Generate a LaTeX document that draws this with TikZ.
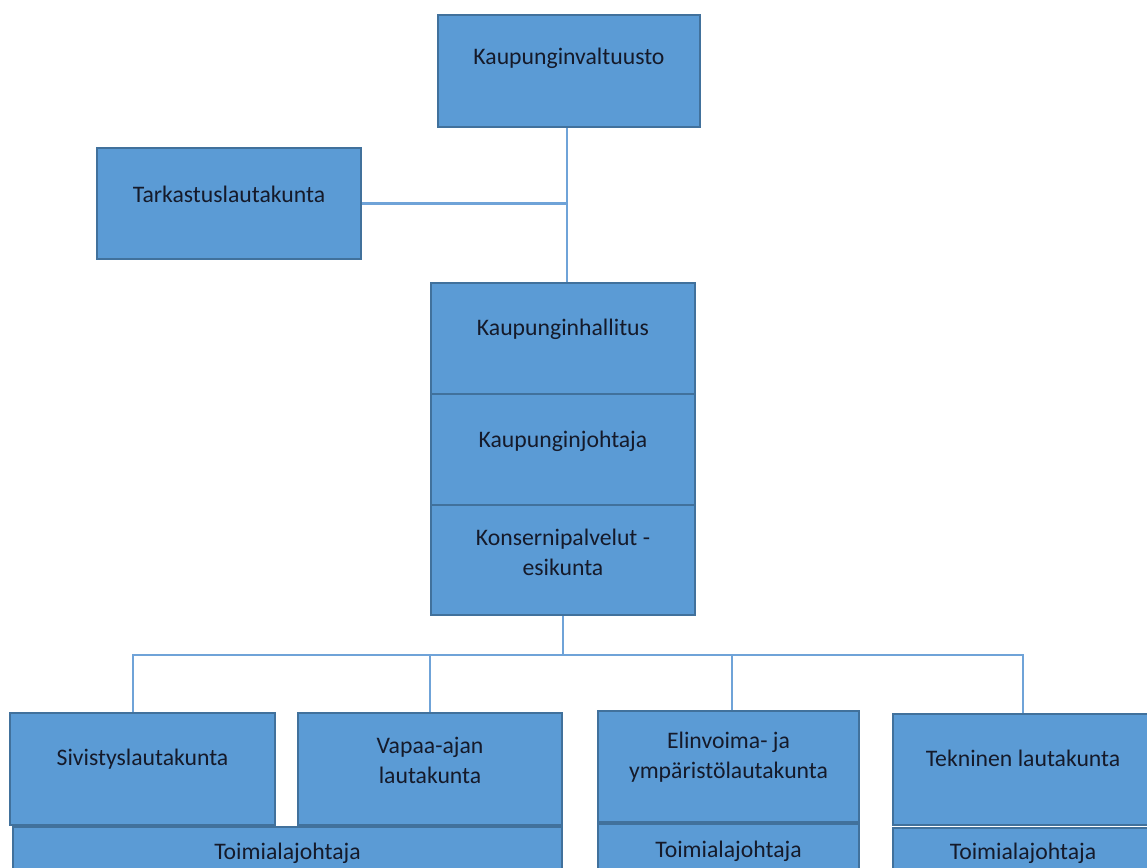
\documentclass[tikz,border=0pt]{standalone}
\usepackage{fontspec}
\setmainfont{Carlito}
\usepackage{tikz}
\usetikzlibrary{positioning}

\definecolor{boxfill}{HTML}{5B9BD5}
\definecolor{boxline}{HTML}{41719C}
\definecolor{linkline}{HTML}{6FA3D8}
\definecolor{lbltext}{HTML}{151A2A}

\tikzset{
  box/.style={draw=boxline, fill=boxfill, line width=0.9pt, inner sep=0pt},
  lbl/.style={align=center, text=lbltext, font=\fontsize{13.5}{17}\selectfont, inner sep=0pt},
  link/.style={draw=linkline, line width=1.3pt}
}

\begin{document}
\begin{tikzpicture}[x=0.02cm, y=-0.02cm]
                \clip (0,0) rectangle (1147,868);
                % ylin taso
                \node [box, minimum width=5.24cm, minimum height=2.24cm] (valtuusto) at (569,71) {};
                \node [lbl] (valtuusto-t) at (569,58) {Kaupunginvaltuusto};
                \node [box, minimum width=5.28cm, minimum height=2.22cm] (tarkastus) at (229,203.5) {};
                \node [lbl] (tarkastus-t) at (229,194) {Tarkastuslautakunta};
                % hallitus, johtaja, konsernipalvelut
                \node [box, minimum width=5.28cm, minimum height=2.22cm] (hallitus) at (563,338.5) {};
                \node [lbl] (hallitus-t) at (563,329) {Kaupunginhallitus};
                \node [box, minimum width=5.28cm, minimum height=2.22cm] (johtaja) at (563,449.5) {};
                \node [lbl] (johtaja-t) at (563,441) {Kaupunginjohtaja};
                \node [box, minimum width=5.28cm, minimum height=2.2cm] (konserni) at (563,560) {};
                \node [lbl] (konserni-t) at (563,552) {Konsernipalvelut -\\esikunta};
                % lautakunnat
                \node [box, minimum width=5.3cm, minimum height=2.24cm] (sivistys) at (142.5,769) {};
                \node [lbl] (sivistys-t) at (142.5,759) {Sivistyslautakunta};
                \node [box, minimum width=5.28cm, minimum height=2.24cm] (vapaa) at (430,769) {};
                \node [lbl] (vapaa-t) at (430,760) {Vapaa-ajan\\lautakunta};
                \node [box, minimum width=10.98cm, minimum height=1.5cm] (toimiala1) at (287.5,864.5) {};
                \node [lbl] (toimiala1-t) at (287.5,853) {Toimialajohtaja};
                \node [box, minimum width=5.22cm, minimum height=2.22cm] (elinvoima) at (728.5,766.5) {};
                \node [lbl] (elinvoima-t) at (728.5,757) {Elinvoima- ja\\ympäristölautakunta};
                \node [box, minimum width=5.22cm, minimum height=1.5cm] (toimiala2) at (728.5,861.5) {};
                \node [lbl] (toimiala2-t) at (728.5,851) {Toimialajohtaja};
                \node [box, minimum width=5.2cm, minimum height=2.22cm] (tekninen) at (1023,769.5) {};
                \node [lbl] (tekninen-t) at (1023,758) {Tekninen lautakunta};
                \node [box, minimum width=5.2cm, minimum height=1.5cm] (toimiala3) at (1023,865.5) {};
                \node [lbl] (toimiala3-t) at (1023,853) {Toimialajohtaja};
                % viivat
                \coordinate (runko) at ([xshift=-0.04cm]valtuusto.south);
                \coordinate (jako) at (565,655);
                \draw [link] (runko) -- (runko |- hallitus.north);
                \draw [link] (tarkastus.east) -- (tarkastus.east -| runko);
                \draw [link] (konserni.south) -- (konserni.south |- jako);
                \draw [link] ([xshift=-0.19cm]sivistys.north) |- (jako) -| (tekninen.north);
                \draw [link] (vapaa.north) -- (vapaa.north |- jako);
                \draw [link] ([xshift=0.07cm]elinvoima.north) -- ([xshift=0.07cm]elinvoima.north |- jako);
            \end{tikzpicture}
\end{document}
